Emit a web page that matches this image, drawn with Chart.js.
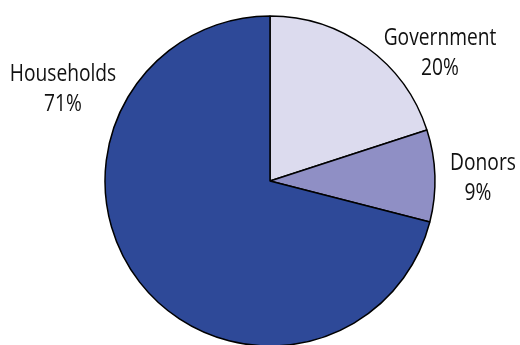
<!DOCTYPE html>
<html>
<head>
<meta charset="utf-8">
<script src="https://cdn.jsdelivr.net/npm/chart.js@4"></script>
<style>
  html, body { margin: 0; padding: 0; background: #fff; }
  #chart { display: block; }
</style>
</head>
<body>
<canvas id="chart" width="520" height="345"></canvas>
<script>
// funding shares, clockwise from 12 o'clock
const sources = ['Government', 'Donors', 'Households'];
const shares = [20, 9, 71];
const sliceColors = ['#dcdbee', '#8f8fc5', '#2e4998'];

// text next to each slice: name on top, percentage underneath
const sliceLabels = {
  id: 'sliceLabels',
  afterDraw(chart) {
    const ctx = chart.ctx;
    const spots = [[440, 38], [483, 163], [63, 74]];
    const pctShift = [0, -5, 0];
    const squeeze = 0.8;
    ctx.save();
    ctx.fillStyle = '#111';
    ctx.font = '24px "Open Sans"';
    ctx.textAlign = 'center';
    ctx.textBaseline = 'middle';
    sources.forEach((name, i) => {
      const [x, y] = spots[i];
      ctx.save();
      ctx.translate(x, y);
      ctx.scale(squeeze, 1);
      ctx.fillText(name, 0, 0);
      ctx.fillText(shares[i] + '%', pctShift[i] / squeeze, 30);
      ctx.restore();
    });
    ctx.restore();
  }
};

new Chart(document.querySelector('#chart'), {
  type: 'pie',
  data: {
    labels: sources,
    datasets: [{
      data: shares,
      backgroundColor: sliceColors,
      borderColor: '#000',
      borderWidth: 1.5,
      radius: 165
    }]
  },
  options: {
    responsive: false,
    animation: false,
    layout: { padding: { left: 20, right: 0, top: 17, bottom: 0 } },
    plugins: {
      legend: { display: false },
      tooltip: { enabled: false }
    }
  },
  plugins: [sliceLabels]
});
</script>
</body>
</html>
